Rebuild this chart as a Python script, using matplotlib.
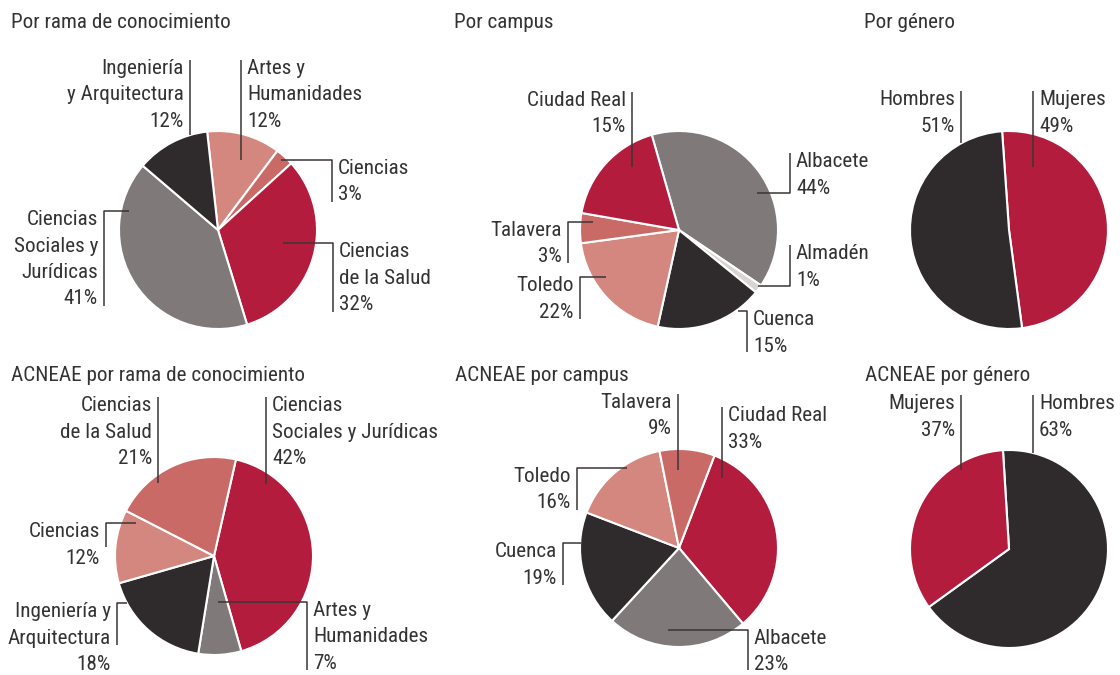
import matplotlib
matplotlib.use("Agg")
import matplotlib.pyplot as plt
from matplotlib import font_manager

W, H = 1120, 675

# ---- data (percentages shown in the labels, slice sizes as drawn) ----
rama_labels = ['Artes y\nHumanidades', 'Ciencias', 'Ciencias\nde la Salud',
               'Ciencias\nSociales y\nJurídicas', 'Ingeniería\ny Arquitectura']
rama_pct = [12, 3, 32, 41, 12]

campus_labels = ['Albacete', 'Almadén', 'Cuenca', 'Toledo', 'Talavera', 'Ciudad Real']
campus_pct = [44, 1, 15, 22, 3, 15]
campus_sizes = [38.9, 1.4, 17.6, 19.4, 4.9, 17.8]

genero_labels = ['Mujeres', 'Hombres']
genero_pct = [49, 51]

acn_rama_labels = ['Ciencias\nSociales y Jurídicas', 'Artes y\nHumanidades',
                   'Ingeniería y\nArquitectura', 'Ciencias', 'Ciencias\nde la Salud']
acn_rama_pct = [42, 7, 18, 12, 21]

acn_campus_labels = ['Ciudad Real', 'Albacete', 'Cuenca', 'Toledo', 'Talavera']
acn_campus_pct = [33, 23, 19, 16, 9]

acn_genero_labels = ['Hombres', 'Mujeres']
acn_genero_pct = [63, 37]
acn_genero_sizes = [66, 34]

# ---- style ----
RED = '#B31C3C'
GREY = '#7F7979'
DARK = '#2F2A2B'
PINK = '#D4877F'
MPINK = '#C96A67'
PALE = '#D8D4D4'
TXT = '#333333'
LINE = '#3A3536'

names = {f.name for f in font_manager.fontManager.ttflist}
fam = 'Roboto Condensed' if 'Roboto Condensed' in names else 'Roboto'
plt.rcParams['font.family'] = [fam, 'DejaVu Sans']
FS = 15.2 if fam == 'Roboto Condensed' else 13.5

fig = plt.figure(figsize=(W / 100, H / 100), dpi=100)
ax = fig.add_axes([0, 0, 1, 1])


def Y(y):
    return H - y


def draw_pie(title, tpos, sizes, pct, labels, colors, center, start, layout):
    ax.pie(sizes, colors=colors, startangle=start, counterclock=False,
           center=(center[0], Y(center[1])), radius=99,
           wedgeprops=dict(edgecolor='white', linewidth=1.5))
    ax.text(tpos[0], Y(tpos[1]), title, fontsize=FS, color=TXT, va='top', ha='left')
    for lab, p, (pts, side) in zip(labels, pct, layout):
        xs = [q[0] for q in pts]
        ys = [Y(q[1]) for q in pts]
        ax.plot(xs, ys, color=LINE, lw=1.1, solid_capstyle='butt')
        top = min(q[1] for q in pts)
        lx = pts[-1][0]
        if side == 'r':
            ax.text(lx + 6, Y(top - 1), f'{lab}\n{p}%', ha='left', va='top',
                    fontsize=FS, color=TXT, linespacing=1.5)
        else:
            ax.text(lx - 6, Y(top - 1), f'{lab}\n{p}%', ha='right', va='top',
                    fontsize=FS, color=TXT, linespacing=1.5)


draw_pie('Por rama de conocimiento', (11, 13), rama_pct, rama_pct, rama_labels,
         [PINK, MPINK, RED, GREY, DARK], (218, 230), 96.3,
         [([(241, 160), (241, 60)], 'r'),
          ([(281, 160), (332, 160), (332, 202)], 'r'),
          ([(283, 243), (333, 243), (333, 312)], 'r'),
          ([(129, 211), (104, 211), (104, 306)], 'l'),
          ([(190, 135), (190, 60)], 'l')])

draw_pie('Por campus', (454, 13), campus_sizes, campus_pct, campus_labels,
         [GREY, PALE, DARK, PINK, MPINK, RED], (679, 230), 106,
         [([(757, 193), (790, 193), (790, 153)], 'r'),
          ([(758, 286), (790, 286), (790, 245)], 'r'),
          ([(738, 311), (747, 311), (747, 352)], 'r'),
          ([(606, 277), (580, 277), (580, 319)], 'l'),
          ([(593, 222), (568, 222), (568, 263)], 'l'),
          ([(632, 167), (632, 92)], 'l')])

draw_pie('Por género', (864, 13), genero_pct, genero_pct, genero_labels,
         [RED, DARK], (1009, 230), 94,
         [([(1033, 167), (1033, 91)], 'r'),
          ([(961, 143), (961, 91)], 'l')])

draw_pie('ACNEAE por rama de conocimiento', (11, 366), acn_rama_pct, acn_rama_pct,
         acn_rama_labels, [RED, GREY, DARK, PINK, MPINK], (214, 556), 77.2,
         [([(266, 484), (266, 397)], 'r'),
          ([(218, 602), (307, 602), (307, 670)], 'r'),
          ([(127, 603), (117, 603), (117, 645)], 'l'),
          ([(136, 523), (106, 523), (106, 547)], 'l'),
          ([(158, 483), (158, 397)], 'l')])

draw_pie('ACNEAE por campus', (455, 366), acn_campus_pct, acn_campus_pct,
         acn_campus_labels, [RED, GREY, DARK, PINK, MPINK], (679, 548), 69,
         [([(722, 478), (722, 407)], 'r'),
          ([(668, 630), (748, 630), (748, 670)], 'r'),
          ([(581, 543), (563, 543), (563, 585)], 'l'),
          ([(627, 468), (577, 468), (577, 510)], 'l'),
          ([(678, 470), (678, 394)], 'l')])

draw_pie('ACNEAE por género', (865, 366), acn_genero_sizes, acn_genero_pct,
         acn_genero_labels, [DARK, RED], (1009, 549), 93.5,
         [([(1033, 453), (1033, 395)], 'r'),
          ([(961, 470), (961, 395)], 'l')])

ax.set_xlim(0, W)
ax.set_ylim(0, H)
ax.set_aspect('equal')
ax.axis('off')

fig.savefig('out.png', dpi=100, facecolor='white')
